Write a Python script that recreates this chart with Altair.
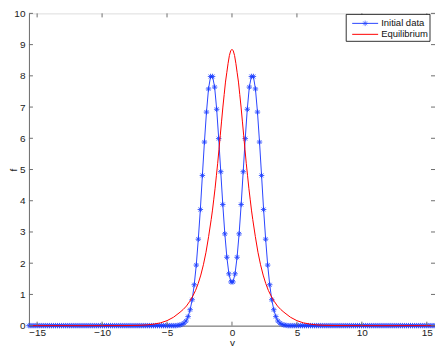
import altair as alt
import pandas as pd
import numpy as np

# ---- data ----
# velocity grid: 200 uniformly spaced points spanning the axis
v_min, v_max, n_v = -15.63, 15.63, 200

# Initial data (blue, '*-'), left half from v=-15.63 up to the point just left of 0
blue_left_tail = [0.0, 0.0, 0.0, 0.0, 0.0, 0.0, 0.0, 0.0, 0.0, 0.0,
                  0.0, 0.0, 0.0, 0.0, 0.0, 0.0, 0.0, 0.0, 0.0, 0.0,
                  0.0, 0.0, 0.0, 0.0, 0.0, 0.0, 0.0, 0.0, 0.0, 0.0,
                  0.0, 0.0, 0.0, 0.0, 0.0, 0.0, 0.0, 0.0, 0.0, 0.0,
                  0.0, 0.0, 0.0, 0.0, 0.0, 0.0, 0.0, 0.0, 0.0, 0.0,
                  0.0, 0.0, 0.0, 0.0, 0.0, 0.0, 0.0, 0.0, 0.0, 0.0,
                  0.0, 0.0, 0.0, 0.0, 0.0, 0.0, 0.0, 0.0, 0.0, 0.0,
                  0.0, 0.0, 0.0]
blue_left_core = [0.01, 0.02, 0.04, 0.08, 0.15, 0.29, 0.51, 0.83, 1.31, 1.94,
                  2.77, 3.72, 4.81, 5.88, 6.84, 7.58, 7.98, 7.98, 7.64, 6.93,
                  5.99, 4.93, 3.88, 2.94, 2.19, 1.66, 1.40]
blue_right_core = [1.40, 1.66, 2.19, 2.94, 3.88, 4.93, 5.99, 6.93, 7.64, 7.98,
                   7.98, 7.58, 6.84, 5.88, 4.81, 3.72, 2.77, 1.94, 1.31, 0.83,
                   0.51, 0.29, 0.15, 0.08, 0.04, 0.02, 0.01]
blue_right_tail = [0.0, 0.0, 0.0, 0.0, 0.0, 0.0, 0.0, 0.0, 0.0, 0.0,
                   0.0, 0.0, 0.0, 0.0, 0.0, 0.0, 0.0, 0.0, 0.0, 0.0,
                   0.0, 0.0, 0.0, 0.0, 0.0, 0.0, 0.0, 0.0, 0.0, 0.0,
                   0.0, 0.0, 0.0, 0.0, 0.0, 0.0, 0.0, 0.0, 0.0, 0.0,
                   0.0, 0.0, 0.0, 0.0, 0.0, 0.0, 0.0, 0.0, 0.0, 0.0,
                   0.0, 0.0, 0.0, 0.0, 0.0, 0.0, 0.0, 0.0, 0.0, 0.0,
                   0.0, 0.0, 0.0, 0.0, 0.0, 0.0, 0.0, 0.0, 0.0, 0.0,
                   0.0, 0.0, 0.0]

# Equilibrium (red solid line)
red_v = [-15.63, -10.0, -9.0, -8.0, -7.0, -6.5, -6.0, -5.5, -5.0, -4.5,
         -4.0, -3.75, -3.5, -3.25, -3.0, -2.8, -2.6, -2.4, -2.2, -2.0,
         -1.8, -1.6, -1.5, -1.4, -1.3, -1.2, -1.1, -1.0, -0.9, -0.8,
         -0.7, -0.6, -0.5, -0.4, -0.3, -0.2, -0.1, 0.0,
         0.1, 0.2, 0.3, 0.4, 0.5, 0.6, 0.7, 0.8, 0.9, 1.0,
         1.1, 1.2, 1.3, 1.4, 1.5, 1.6, 1.8, 2.0, 2.2, 2.4,
         2.6, 2.8, 3.0, 3.25, 3.5, 3.75, 4.0, 4.5, 5.0, 5.5,
         6.0, 6.5, 7.0, 8.0, 9.0, 10.0, 15.63]
red_f = [0.0, 0.0, 0.001, 0.003, 0.012, 0.025, 0.05, 0.09, 0.16, 0.27,
         0.43, 0.52, 0.63, 0.78, 0.96, 1.13, 1.35, 1.62, 1.95, 2.35,
         2.85, 3.4, 3.7, 4.05, 4.4, 4.8, 5.2, 5.65, 6.1, 6.55,
         7.0, 7.4, 7.8, 8.1, 8.4, 8.65, 8.8, 8.85,
         8.8, 8.65, 8.4, 8.1, 7.8, 7.4, 7.0, 6.55, 6.1, 5.65,
         5.2, 4.8, 4.4, 4.05, 3.7, 3.4, 2.85, 2.35, 1.95, 1.62,
         1.35, 1.13, 0.96, 0.78, 0.63, 0.52, 0.43, 0.27, 0.16, 0.09,
         0.05, 0.025, 0.012, 0.003, 0.001, 0.0, 0.0]

x_ticks = [-15, -10, -5, 0, 5, 10, 15]
y_ticks = [0, 1, 2, 3, 4, 5, 6, 7, 8, 9, 10]
series_names = ["Initial data", "Equilibrium"]
series_colors = ["#0000ff", "#ff0000"]

# ---- tables ----
blue_v = np.linspace(v_min, v_max, n_v)
blue_f = blue_left_tail + blue_left_core + blue_right_core + blue_right_tail
blue_df = pd.DataFrame({"v": blue_v, "f": blue_f})
red_df = pd.DataFrame({"v": red_v, "f": red_f})
xt_df = pd.DataFrame({"t": x_ticks})
yt_df = pd.DataFrame({"t": y_ticks})
one_df = pd.DataFrame({"a": [0]})

W, H = 407, 313
FONT = "Liberation Sans"
AX = "#6e6e6e"
BLUE_LINE = "#2a45ff"
BLUE_MARK = "#1a3cff"
ASTER = "M-1,0L1,0M0,-1L0,1M-0.7,-0.7L0.7,0.7M-0.7,0.7L0.7,-0.7"

xscale = alt.Scale(domain=[v_min, v_max], nice=False, zero=False)
yscale = alt.Scale(domain=[0, 10], nice=False)

xaxis = alt.Axis(values=x_ticks, tickSize=0, grid=False, domainColor=AX,
                 labelFont=FONT, labelFontSize=10, labelColor="#222",
                 labelPadding=2, title="v", titleFont=FONT, titleFontSize=10,
                 titleFontWeight="normal", titleColor="#222", titlePadding=0)
yaxis = alt.Axis(values=y_ticks, tickSize=0, grid=False, domainColor=AX,
                 labelFont=FONT, labelFontSize=10, labelColor="#222",
                 labelPadding=4, title="f", titleFont=FONT, titleFontSize=10,
                 titleFontWeight="normal", titleColor="#222",
                 titleX=-12, titleY=H / 2, titleBaseline="alphabetic",
                 titleAngle=270)

X = lambda fld: alt.X(fld, scale=xscale, axis=xaxis)
Y = lambda fld: alt.Y(fld, scale=yscale, axis=yaxis)

blue_line = alt.Chart(blue_df).mark_line(strokeWidth=1, color=BLUE_LINE).encode(
    x=X("v:Q"), y=Y("f:Q"))
blue_pts = alt.Chart(blue_df).mark_point(
    shape=ASTER, filled=False, color=BLUE_MARK, strokeWidth=0.9, size=30, opacity=0.9
).encode(x=X("v:Q"), y=Y("f:Q"))
red_line = alt.Chart(red_df).mark_line(strokeWidth=1, color=series_colors[1]).encode(
    x=X("v:Q"), y=Y("f:Q"))

tick_b = alt.Chart(xt_df).mark_rule(color=AX).encode(
    x=X("t:Q"), y=alt.value(H), y2=alt.value(H - 4))
tick_t = alt.Chart(xt_df).mark_rule(color=AX).encode(
    x=X("t:Q"), y=alt.value(0), y2=alt.value(4))
tick_l = alt.Chart(yt_df).mark_rule(color=AX).encode(
    y=Y("t:Q"), x=alt.value(0), x2=alt.value(4))
tick_r = alt.Chart(yt_df).mark_rule(color=AX).encode(
    y=Y("t:Q"), x=alt.value(W - 4), x2=alt.value(W))

# ---- legend box (drawn as marks, positioned in pixels) ----
LX0, LX1, LY0, LY1 = 318, 402, 1, 28
ROW1, ROW2 = 10, 21
SX0, SX1, TX = 324, 350, 353
leg_box = alt.Chart(one_df).mark_rect(fill="white", stroke="#000", strokeWidth=0.8).encode(
    x=alt.value(LX0), x2=alt.value(LX1), y=alt.value(LY0), y2=alt.value(LY1))
leg_l1 = alt.Chart(one_df).mark_rule(color=BLUE_LINE, strokeWidth=1).encode(
    x=alt.value(SX0), x2=alt.value(SX1), y=alt.value(ROW1))
leg_m1 = alt.Chart(one_df).mark_point(
    shape=ASTER, filled=False, color=BLUE_MARK, strokeWidth=0.9, size=30).encode(
    x=alt.value((SX0 + SX1) / 2), y=alt.value(ROW1))
leg_l2 = alt.Chart(one_df).mark_rule(color=series_colors[1], strokeWidth=1).encode(
    x=alt.value(SX0), x2=alt.value(SX1), y=alt.value(ROW2))
leg_t1 = alt.Chart(one_df).mark_text(align="left", baseline="middle", font=FONT,
                                     fontSize=9.5, color="#111").encode(
    x=alt.value(TX), y=alt.value(ROW1), text=alt.value(series_names[0]))
leg_t2 = alt.Chart(one_df).mark_text(align="left", baseline="middle", font=FONT,
                                     fontSize=9.5, color="#111").encode(
    x=alt.value(TX), y=alt.value(ROW2), text=alt.value(series_names[1]))

chart = alt.layer(blue_line, blue_pts, red_line, tick_b, tick_t, tick_l, tick_r,
                  leg_box, leg_l1, leg_m1, leg_l2, leg_t1, leg_t2).properties(
    width=W, height=H,
    autosize=alt.AutoSizeParams(type="none"),
    padding={"left": 21, "top": 5, "right": 0, "bottom": 23},
).configure_view(stroke=AX, strokeWidth=1).configure(background="white")

chart.save("out.html", embed_options={"renderer": "svg", "actions": False})
